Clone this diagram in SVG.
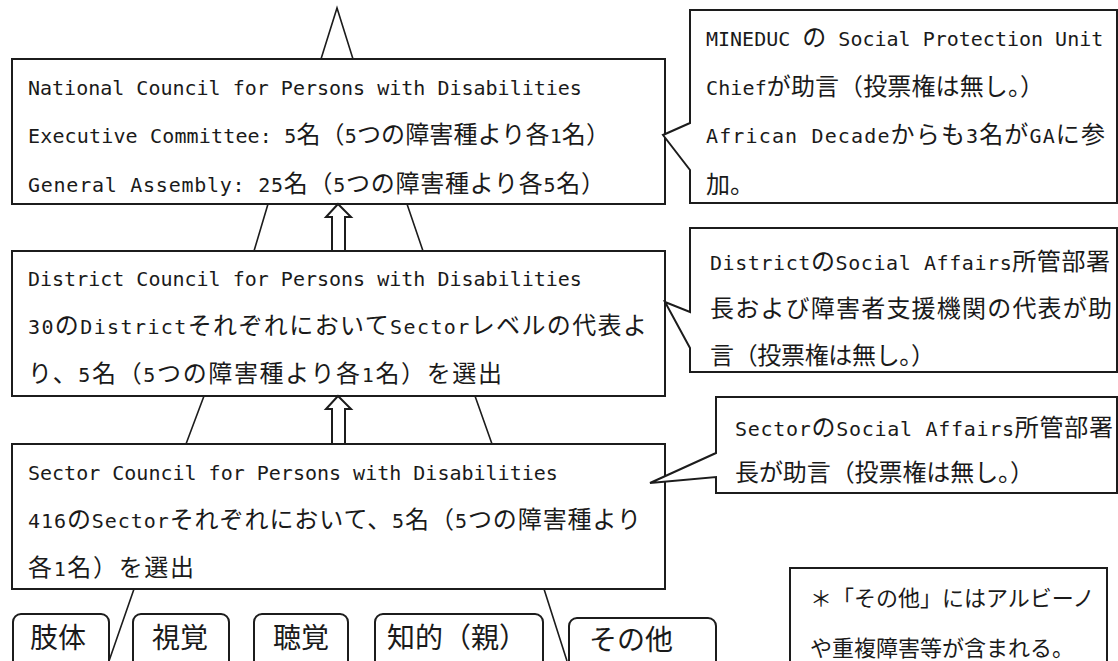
<svg xmlns="http://www.w3.org/2000/svg" width="1118" height="661" viewBox="0 0 1118 661">
<style>
.bx{fill:#fff;stroke:#1c1c1c;stroke-width:2}
.ln{fill:none;stroke:#1c1c1c;stroke-width:1.6}
.ar{fill:#fff;stroke:#1c1c1c;stroke-width:2;stroke-linejoin:miter}
.t{font-family:"DejaVu Sans Mono","Liberation Mono","Noto Sans CJK JP",monospace;font-size:20px;fill:#1a1a1a}
.j{font-family:"Noto Sans CJK JP",sans-serif;font-size:24px}
.n{font-family:"Noto Sans CJK JP",sans-serif;font-size:22px;fill:#1a1a1a}
.b{font-family:"Noto Sans CJK JP",sans-serif;font-size:28px;fill:#1a1a1a}
</style>
<rect width="1118" height="661" fill="#fff"/>
<g id="connectors">
<path class="ln" d="M321,59 L337,8 L353,59"/>
<path class="ln" d="M268,204 L254,251 M407,204 L423,251"/>
<path class="ln" d="M204,396 L186,444 M475,396 L492,444"/>
<path class="ln" d="M134,589 L109,661 M544,589 L567,661"/>
</g>
<g id="national">
<rect class="bx" x="12" y="59" width="653" height="145"/>
<text class="t" x="28" y="95">National Council for Persons with Disabilities</text>
<text class="t" x="28" y="143" textLength="582" lengthAdjust="spacing">Executive Committee: 5<tspan class="j">名（</tspan>5<tspan class="j">つの障害種より各</tspan>1<tspan class="j">名）</tspan></text>
<text class="t" x="28" y="192" textLength="577" lengthAdjust="spacing">General Assembly: 25<tspan class="j">名（</tspan>5<tspan class="j">つの障害種より各</tspan>5<tspan class="j">名）</tspan></text>
</g>
<g id="district">
<rect class="bx" x="12" y="251" width="653" height="145"/>
<text class="t" x="28" y="286">District Council for Persons with Disabilities</text>
<text class="t" x="28" y="334" textLength="619" lengthAdjust="spacing">30<tspan class="j">の</tspan>District<tspan class="j">それぞれにおいて</tspan>Sector<tspan class="j">レベルの代表よ</tspan></text>
<text class="t" x="28" y="382" textLength="474" lengthAdjust="spacing"><tspan class="j">り、</tspan>5<tspan class="j">名（</tspan>5<tspan class="j">つの障害種より各</tspan>1<tspan class="j">名）を選出</tspan></text>
</g>
<g id="sector">
<rect class="bx" x="12" y="444" width="653" height="145"/>
<text class="t" x="28" y="480">Sector Council for Persons with Disabilities</text>
<text class="t" x="28" y="528" textLength="613" lengthAdjust="spacing">416<tspan class="j">の</tspan>Sector<tspan class="j">それぞれにおいて、</tspan>5<tspan class="j">名（</tspan>5<tspan class="j">つの障害種より</tspan></text>
<text class="t" x="28" y="576" textLength="166" lengthAdjust="spacing"><tspan class="j">各</tspan>1<tspan class="j">名）を選出</tspan></text>
</g>
<g id="arrow-district-national">
<path class="ar" d="M338,204 L351,217 L345,217 L345,251 L332,251 L332,217 L326,217 Z"/>
</g>
<g id="arrow-sector-district">
<path class="ar" d="M338,396 L351,409 L345,409 L345,444 L332,444 L332,409 L326,409 Z"/>
</g>
<g id="note-mineduc">
<path class="bx" d="M690,10 H1117 V203 H690 V170 L663,135 L690,123 Z"/>
<text class="t" x="706" y="46">MINEDUC <tspan class="j">の</tspan> Social Protection Unit</text>
<text class="t" x="706" y="95" textLength="338" lengthAdjust="spacing">Chief<tspan class="j">が助言（投票権は無し。）</tspan></text>
<text class="t" x="706" y="143" textLength="399" lengthAdjust="spacing">African Decade<tspan class="j">からも</tspan>3<tspan class="j">名が</tspan>GA<tspan class="j">に参</tspan></text>
<text class="t" x="706" y="193"><tspan class="j">加。</tspan></text>
</g>
<g id="note-district">
<path class="bx" d="M690,228 H1117 V372 H690 V348 L665,302 L690,312 Z"/>
<text class="t" x="710" y="270" textLength="400" lengthAdjust="spacing">District<tspan class="j">の</tspan>Social Affairs<tspan class="j">所管部署</tspan></text>
<text class="t" x="710" y="317" textLength="402" lengthAdjust="spacing"><tspan class="j">長および障害者支援機関の代表が助</tspan></text>
<text class="t" x="710" y="364" textLength="225" lengthAdjust="spacing"><tspan class="j">言（投票権は無し。）</tspan></text>
</g>
<g id="note-sector">
<path class="bx" d="M716,397 H1117 V493 H716 V477 L650,483 L716,453 Z"/>
<text class="t" x="735" y="436" textLength="378" lengthAdjust="spacing">Sector<tspan class="j">の</tspan>Social Affairs<tspan class="j">所管部署</tspan></text>
<text class="t" x="735" y="481" textLength="299" lengthAdjust="spacing"><tspan class="j">長が助言（投票権は無し。）</tspan></text>
</g>
<g id="type-limb">
<rect class="bx" x="13" y="614" width="96" height="70" rx="8"/>
<text class="b" x="30" y="648">肢体</text>
</g>
<g id="type-visual">
<rect class="bx" x="133" y="614" width="96" height="70" rx="8"/>
<text class="b" x="152" y="648">視覚</text>
</g>
<g id="type-hearing">
<rect class="bx" x="254" y="614" width="94" height="70" rx="8"/>
<text class="b" x="273" y="648">聴覚</text>
</g>
<g id="type-intellectual">
<rect class="bx" x="375" y="614" width="168" height="70" rx="8"/>
<text class="b" x="387" y="648">知的（親）</text>
</g>
<g id="type-other">
<rect class="bx" x="569" y="618" width="147" height="70" rx="8"/>
<text class="b" x="589" y="650">その他</text>
</g>
<g id="footnote">
<rect class="bx" x="790" y="568" width="317" height="120"/>
<text class="n" x="810" y="606">＊「その他」にはアルビーノ</text>
<text class="n" x="810" y="656">や重複障害等が含まれる。</text>
</g>
</svg>
